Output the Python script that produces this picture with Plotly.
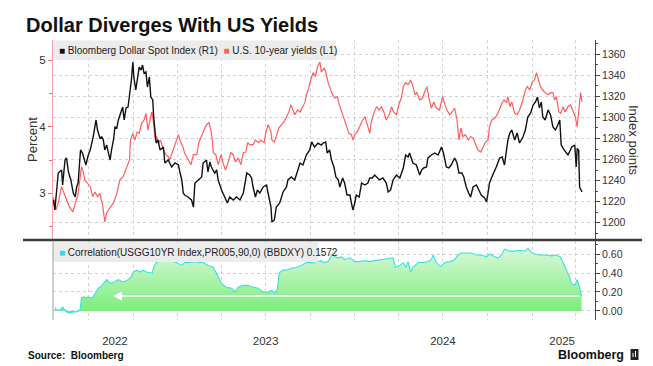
import numpy as np
import pandas as pd
import plotly.graph_objects as go

# ---------------- data (dates as days since 2022-01-01) ----------------
BASE_DATE = "2022-01-01"

dollar_days = [
    108,111,118,125,127,132,135,139,144,149,
    153,156,159,164,168,172,175,180,184,190,
    196,199,204,208,211,214,218,221,225,228,
    232,235,239,242,247,251,254,258,262,266,
    269,272,274,278,282,285,289,292,295,299,
    302,306,309,313,315,320,324,328,335,338,
    345,352,359,366,369,373,376,379,386,393,
    397,400,407,414,417,424,427,431,434,441,
    445,448,455,462,467,472,479,486,493,500,
    507,513,517,520,525,529,534,541,548,551,
    557,559,564,568,575,582,589,592,599,606,
    613,617,623,630,637,641,647,654,661,
    665,670,673,678,682,687,691,696,699,705,709,
    714,720,723,726,730,733,739,744,751,757,
    761,766,771,776,781,788,795,799,804,809,
    816,823,830,835,840,843,850,857,864,868,
    872,878,881,888,895,902,909,913,919,924,
    929,936,941,945,
    951,955,960,965,969,974,981,986,991,998,
    1002,1005,1008,1012,1017,1022,1029,1034,1039,1043,
    1046,1050,1054,1060,1065,1070,1077,1082,1087,1093,
    1098,1103,1107,1111,1115,1118,1123,1129,1134,1139,
    1144,1149,1153,1156,1162,1170,1173,1178,1184,1187,
    1189,1192,1194,1199,
]
dollar_index = [
    1221.6,1212.1,1247.2,1250.1,1235.8,1259.6,1261.5,1248.2,1240.6,1228.2,
    1224.4,1233.9,1237.7,1269.1,1266.2,1259.6,1254.8,1264.3,1269.1,1281.4,
    1297.6,1288.1,1280.5,1281.4,1278.6,1269.1,1273.8,1267.2,1259.6,1269.1,
    1278.6,1290.9,1290.0,1297.6,1304.2,1309.9,1297.6,1309.0,1309.9,1323.2,
    1335.6,1352.7,1338.4,1326.1,1338.4,1347.9,1345.1,1349.8,1342.2,1343.2,
    1328.9,1338.4,1319.4,1316.6,1300.4,1275.7,1278.6,1269.1,1271.9,1256.7,
    1259.6,1252.9,1256.7,1254.8,1248.2,1240.6,1228.2,1226.3,1224.4,1221.6,
    1214.9,1237.7,1240.6,1243.4,1256.7,1259.6,1248.2,1257.7,1252.9,1247.2,
    1250.1,1240.6,1231.1,1224.4,1218.7,1224.4,1221.6,1224.4,1221.6,1228.2,
    1247.2,1245.3,1242.5,1233.9,1224.4,1231.1,1228.2,1233.9,1235.8,1228.2,
    1214.9,1200.7,1202.6,1214.9,1218.7,1229.2,1233.9,1240.6,1243.4,1240.6,
    1250.1,1256.7,1254.8,1264.3,1269.1,1276.7,1271.9,1275.7,1273.8,
    1275.7,1276.7,1266.2,1269.1,1259.6,1252.9,1243.4,1240.6,1233.9,1242.5,1237.7,
    1226.3,1226.3,1218.7,1212.1,1218.7,1226.3,1224.4,1237.7,1235.8,1237.7,
    1242.5,1242.5,1245.3,1243.4,1240.6,1242.5,1237.7,1229.2,1231.1,1240.6,
    1245.3,1242.5,1252.0,1264.3,1262.4,1266.2,1256.7,1254.8,1245.3,1250.1,
    1252.0,1252.9,1261.5,1264.3,1266.2,1264.3,1271.9,1266.2,1252.9,1252.0,
    1254.8,1261.5,1256.7,1247.2,
    1247.2,1243.4,1233.9,1228.2,1224.4,1233.9,1235.8,1231.1,1226.3,1223.5,
    1219.7,1228.2,1237.7,1242.5,1247.2,1252.9,1261.5,1262.4,1254.8,1269.1,
    1278.6,1285.2,1288.1,1278.6,1285.2,1275.7,1281.4,1288.1,1300.4,1304.2,
    1311.8,1314.7,1319.4,1309.0,1314.7,1300.4,1297.6,1307.1,1302.3,1290.9,
    1288.1,1292.8,1297.6,1273.8,1269.1,1264.3,1267.2,1271.9,1273.8,1252.9,
    1270.0,1269.1,1233.9,1229.2,
]

yield_days = [
    108,113,118,125,130,135,141,148,153,159,
    166,170,173,178,184,189,194,199,204,210,
    214,218,225,232,239,245,252,259,265,267,
    272,276,281,285,290,295,299,303,307,311,
    314,318,321,324,329,335,340,345,348,355,
    361,366,369,375,379,386,
    392,397,404,408,414,419,424,429,433,436,
    438,443,448,454,458,463,469,474,479,484,
    489,495,500,505,509,513,520,525,531,536,
    543,546,551,557,559,564,569,573,579,584,
    589,594,598,603,606,612,617,621,627,630,
    635,639,644,649,653,658,661,667,
    670,675,678,684,689,694,698,703,707,713,
    718,723,726,730,735,740,746,751,755,761,
    764,769,775,780,785,790,795,801,806,810,
    816,821,826,830,835,840,845,849,854,858,
    864,870,874,879,883,888,893,898,905,911,
    916,920,926,931,936,941,945,
    949,953,958,964,969,974,979,984,990,995,
    999,1005,1008,1013,1019,1024,1029,1034,1038,1043,
    1046,1050,1054,1060,1065,1070,1077,1082,1086,1091,
    1096,1101,1105,1108,1113,1118,1123,1129,1134,1139,
    1142,1146,1151,1155,1160,1164,1170,1175,1180,1185,
    1189,1192,1196,1199,
]
us10y_yield = [
    2.94,2.75,2.86,3.10,3.00,2.90,2.80,2.72,2.86,3.00,
    3.40,3.31,3.20,3.16,3.10,2.95,3.02,2.95,3.00,2.80,
    2.57,2.71,2.78,2.86,3.00,3.20,3.25,3.40,3.50,3.80,
    3.90,3.80,3.92,3.90,4.05,4.10,4.20,3.95,4.10,4.22,
    4.10,3.80,3.85,3.75,3.80,3.65,3.58,3.55,3.50,3.65,
    3.80,3.88,3.80,3.70,3.60,3.50,
    3.43,3.58,3.58,3.76,3.85,3.95,4.03,4.06,3.95,3.80,
    3.61,3.58,3.43,3.58,3.46,3.35,3.47,3.61,3.58,3.47,
    3.53,3.43,3.61,3.62,3.76,3.73,3.73,3.80,3.76,3.80,
    3.76,3.90,4.03,3.92,3.80,3.77,3.88,3.98,4.03,4.07,
    4.15,4.22,4.33,4.25,4.18,4.25,4.22,4.28,4.36,4.48,
    4.58,4.70,4.81,4.75,4.90,4.97,4.82,4.88,
    4.82,4.66,4.60,4.48,4.43,4.45,4.33,4.22,4.13,3.98,
    3.90,3.88,3.80,3.88,3.92,4.00,4.10,4.15,4.06,3.90,
    4.07,4.20,4.30,4.25,4.30,4.22,4.10,4.18,4.30,4.22,
    4.18,4.33,4.43,4.60,4.66,4.63,4.70,4.63,4.48,4.51,
    4.40,4.43,4.52,4.60,4.43,4.28,4.37,4.28,4.25,4.45,
    4.33,4.25,4.18,4.22,4.28,4.10,3.80,
    3.98,3.85,3.88,3.80,3.85,3.83,3.73,3.65,3.62,3.70,
    3.76,3.80,4.00,4.10,4.13,4.18,4.28,4.36,4.40,4.36,
    4.45,4.30,4.37,4.20,4.18,4.25,4.40,4.55,4.60,4.55,
    4.67,4.70,4.81,4.73,4.60,4.55,4.51,4.48,4.51,4.51,
    4.40,4.45,4.22,4.20,4.30,4.22,4.30,4.33,4.25,4.15,
    4.00,4.25,4.51,4.37,
]

corr_days = [
    111,116,122,127,132,135,142,149,157,163,
    166,170,175,180,185,190,196,201,208,214,
    218,221,228,235,242,249,256,262,269,273,
    280,287,293,300,307,312,315,320,326,335,
    342,348,355,362,373,379,386,393,400,407,
    417,427,438,448,455,465,476,483,489,500,
    510,520,531,541,551,558,565,570,574,581,
    589,599,610,620,630,641,651,661,
    665,675,684,689,696,703,709,720,730,740,
    751,761,771,782,795,809,814,823,830,835,
    840,845,850,861,871,881,888,892,898,907,
    916,926,936,943,950,960,971,981,991,1002,
    1008,1019,1026,1033,1039,1050,1060,1070,1081,1087,
    1094,1101,1111,1125,1136,1146,1154,1160,1167,1173,
    1177,1184,1189,1193,1198,
]
correlation = [
    0.035,0.01,0.01,0.04,0.01,-0.01,-0.02,-0.01,-0.01,0.01,
    0.14,0.15,0.14,0.15,0.14,0.15,0.20,0.24,0.27,0.31,
    0.33,0.31,0.29,0.31,0.33,0.31,0.31,0.33,0.36,0.41,
    0.43,0.41,0.43,0.41,0.40,0.40,0.46,0.51,0.52,0.54,
    0.55,0.53,0.52,0.51,0.48,0.51,0.51,0.51,0.52,0.51,
    0.51,0.48,0.46,0.36,0.29,0.25,0.24,0.20,0.25,0.27,
    0.27,0.25,0.24,0.20,0.20,0.22,0.19,0.23,0.40,0.43,
    0.43,0.45,0.46,0.48,0.51,0.51,0.52,0.53,
    0.51,0.52,0.60,0.57,0.56,0.57,0.54,0.56,0.52,0.52,
    0.53,0.52,0.53,0.54,0.55,0.56,0.46,0.48,0.51,0.46,
    0.52,0.41,0.46,0.51,0.51,0.52,0.54,0.59,0.51,0.47,
    0.51,0.52,0.54,0.59,0.61,0.61,0.61,0.59,0.59,0.57,
    0.60,0.57,0.56,0.59,0.65,0.63,0.63,0.64,0.63,0.66,
    0.62,0.60,0.59,0.59,0.58,0.59,0.57,0.51,0.43,0.36,
    0.29,0.27,0.33,0.27,0.1572,
]
last_corr = 0.1572

year_labels = ["2022", "2023", "2024", "2025"]
year_label_dates = ["2022-08-24", "2023-07-01", "2024-07-01", "2025-03-04"]
quarter_dates = ["2022-07-01", "2022-10-01", "2023-01-01", "2023-04-01",
                 "2023-07-01", "2023-10-01", "2024-01-01", "2024-04-01",
                 "2024-07-01", "2024-10-01", "2025-01-01", "2025-04-01"]
x_range = ["2022-04-18 04:00", "2025-05-10 18:00"]
arrow_start_date = "2022-08-20"

yield_ticks = [3, 4, 5]
yield_minor = [2.5, 3.5, 4.5]
dollar_ticks = list(range(1200, 1361, 20))
dollar_minor = list(range(1190, 1371, 10))
corr_ticks = [0.0, 0.2, 0.4, 0.6]
corr_minor = [-0.1, 0.1, 0.3, 0.5, 0.7]

# ---------------- build ----------------
assert len(dollar_days) == len(dollar_index)
assert len(yield_days) == len(us10y_yield)
assert len(corr_days) == len(correlation)

base = pd.Timestamp(BASE_DATE)
to_dates = lambda d: base + pd.to_timedelta(np.array(d), unit="D")
d_dates = to_dates(dollar_days)
y_dates = to_dates(yield_days)
c_dates = to_dates(corr_days)
corr = np.array(correlation)

FONT = "Liberation Sans"
GRID = "#d2d2d2"

fig = go.Figure()
fig.add_trace(go.Scatter(x=y_dates, y=us10y_yield, mode="lines",
                         line=dict(color="#ff5e5e", width=1.2),
                         xaxis="x", yaxis="y", showlegend=False))
fig.add_trace(go.Scatter(x=d_dates, y=dollar_index, mode="lines",
                         line=dict(color="#111111", width=1.4),
                         xaxis="x", yaxis="y2", showlegend=False))
fig.add_trace(go.Scatter(x=c_dates, y=np.maximum(corr, 0), mode="lines",
                         line=dict(width=0), fill="tozeroy",
                         fillgradient=dict(type="vertical",
                                           colorscale=[[0, "#7ced7c"], [1, "#d9f8d9"]],
                                           start=0, stop=0.66),
                         xaxis="x2", yaxis="y3", showlegend=False))
fig.add_trace(go.Scatter(x=c_dates, y=np.minimum(corr, 0), mode="lines",
                         line=dict(width=0), fill="tozeroy", fillcolor="#f29a9a",
                         xaxis="x2", yaxis="y3", showlegend=False))
fig.add_trace(go.Scatter(x=c_dates, y=corr, mode="lines",
                         line=dict(color="#37e2e2", width=1.1),
                         xaxis="x2", yaxis="y3", showlegend=False))

# The page body has an 8px margin, so the figure is made 8px smaller and
# every layout position below is given in window coordinates.
OFF = 8
W, H = 653 - OFF, 366 - OFF
PLOT_L, PLOT_R, PLOT_T, PLOT_B = 53, 595, 40, 320   # window pixels
L, R = PLOT_L - OFF, W - (PLOT_R - OFF)
T, B = PLOT_T - OFF, H - (PLOT_B - OFF)
PW, PH = PLOT_R - PLOT_L, PLOT_B - PLOT_T


def px(x):
    return (x - PLOT_L) / PW


def py(y):
    return (PLOT_B - y) / PH


minor_x = dict(tickmode="array", tickvals=quarter_dates, showgrid=True,
               gridcolor=GRID, griddash="dot", gridwidth=1, ticks="")

fig.update_layout(
    width=W, height=H,
    margin=dict(l=L, r=R, t=T, b=B),
    paper_bgcolor="white", plot_bgcolor="white",
    font=dict(family=FONT, color="#333333", size=11),
    showlegend=False,
    xaxis=dict(domain=[0, 1], anchor="y", range=x_range, type="date",
               showticklabels=False, showgrid=False, zeroline=False,
               ticks="", minor=minor_x),
    xaxis2=dict(domain=[0, 1], anchor="y3", range=x_range, type="date",
                matches="x", tickmode="array", tickvals=year_label_dates,
                ticktext=year_labels, showgrid=False, zeroline=False,
                ticks="outside", ticklen=10, tickcolor="rgba(0,0,0,0)",
                tickfont=dict(size=11.5, color="#333"), minor=minor_x),
    yaxis=dict(domain=[py(239), 1], anchor="x", range=[2.315, 5.30],
               tickmode="array", tickvals=yield_ticks, ticks="outside",
               ticklen=4, tickcolor="#f06a6a", showline=True,
               linecolor="#f5a5a5", linewidth=1, showgrid=False, zeroline=False,
               tickfont=dict(size=11.5, color="#333"),
               minor=dict(tickmode="array", tickvals=yield_minor,
                          ticks="outside", ticklen=3, tickcolor="#f06a6a",
                          showgrid=False)),
    yaxis2=dict(overlaying="y", side="right", anchor="x",
                range=[1184.5, 1373.6], tickmode="array",
                tickvals=dollar_ticks, ticks="outside", ticklen=4,
                tickcolor="#444", showline=True, linecolor="#444",
                linewidth=1, showgrid=True, gridcolor=GRID, griddash="dot",
                zeroline=False, tickfont=dict(size=10.5, color="#333"),
                minor=dict(tickmode="array", tickvals=dollar_minor,
                           ticks="outside", ticklen=2, tickcolor="#444",
                           showgrid=False)),
    yaxis3=dict(domain=[0, py(241)], anchor="x2", side="right",
                range=[-0.095, 0.737], tickmode="array", tickvals=corr_ticks,
                tickformat=".2f", ticks="outside", ticklen=4,
                tickcolor="#444", showline=True, linecolor="#444",
                linewidth=1, showgrid=True, gridcolor=GRID, griddash="dot",
                zeroline=False, tickfont=dict(size=10.5, color="#333"),
                minor=dict(tickmode="array", tickvals=corr_minor,
                           ticks="outside", ticklen=2, tickcolor="#444",
                           showgrid=False)),
)

shapes = [
    # legend boxes
    dict(type="rect", xref="paper", yref="paper", x0=px(53), x1=px(336),
         y0=py(60), y1=py(40.5), fillcolor="#ececec", line=dict(width=0),
         layer="above"),
    dict(type="rect", xref="paper", yref="paper", x0=px(53), x1=px(318),
         y0=py(262), y1=py(242), fillcolor="#ececec", line=dict(width=0),
         layer="above"),
    # thick separator
    dict(type="line", xref="paper", yref="paper", x0=px(23), x1=px(642),
         y0=py(240), y1=py(240), line=dict(color="#3c3c3c", width=2.5),
         layer="above"),
    # lower-left axis line
    dict(type="line", xref="paper", yref="paper", x0=0, x1=0,
         y0=py(320), y1=py(241), line=dict(color="#a0a0a0", width=1),
         layer="above"),
    # logo icon
    dict(type="rect", xref="paper", yref="paper", x0=px(630.5), x1=px(638.5),
         y0=py(360), y1=py(349), fillcolor="#222", line=dict(width=0),
         layer="above"),
    dict(type="line", xref="paper", yref="paper", x0=px(633), x1=px(633),
         y0=py(357), y1=py(353), line=dict(color="white", width=1),
         layer="above"),
    dict(type="line", xref="paper", yref="paper", x0=px(635.5), x1=px(635.5),
         y0=py(357), y1=py(351), line=dict(color="white", width=1),
         layer="above"),
]
fig.update_layout(shapes=shapes)

ann = [
    dict(text="<b>Dollar Diverges With US Yields</b>", xref="paper",
         yref="paper", x=px(24), y=py(25), xanchor="left", yanchor="middle",
         showarrow=False, font=dict(family=FONT, size=20, color="#111")),
    dict(text='<span style="color:#111">■</span> Bloomberg Dollar Spot Index (R1)  '
              '<span style="color:#ff5e5e">■</span> U.S. 10-year yields (L1)',
         xref="paper", yref="paper", x=px(57), y=py(50.5), xanchor="left",
         yanchor="middle", showarrow=False,
         font=dict(family=FONT, size=10, color="#222")),
    dict(text='<span style="color:#22e0e8">■</span> Correlation(USGG10YR Index,PR005,90,0) (BBDXY) '
              + f"{last_corr:.4f}",
         xref="paper", yref="paper", x=px(57), y=py(252), xanchor="left",
         yanchor="middle", showarrow=False,
         font=dict(family=FONT, size=10, color="#222")),
    dict(text="Percent", xref="paper", yref="paper", x=px(32), y=py(140),
         xanchor="center", yanchor="middle", textangle=-90, showarrow=False,
         font=dict(family=FONT, size=13, color="#333")),
    dict(text="Index points", xref="paper", yref="paper", x=px(634),
         y=py(140), xanchor="center", yanchor="middle", textangle=90,
         showarrow=False, font=dict(family=FONT, size=13, color="#333")),
    dict(text="<b>Source:  Bloomberg</b>", xref="paper", yref="paper",
         x=px(26), y=py(355), xanchor="left", yanchor="middle",
         showarrow=False, font=dict(family=FONT, size=10, color="#111")),
    dict(text="<b>Bloomberg</b>", xref="paper", yref="paper", x=px(626),
         y=py(355), xanchor="right", yanchor="middle", showarrow=False,
         font=dict(family=FONT, size=12.5, color="#111")),
    # white arrow at the latest correlation value
    dict(text="", x=arrow_start_date, y=last_corr, xref="x2", yref="y3",
         ax=c_dates[-1], ay=last_corr, axref="x2", ayref="y3",
         showarrow=True, arrowhead=2, arrowsize=1.2, arrowwidth=1.5,
         arrowcolor="white"),
]
fig.update_layout(annotations=ann)

fig.write_html("out.html")
